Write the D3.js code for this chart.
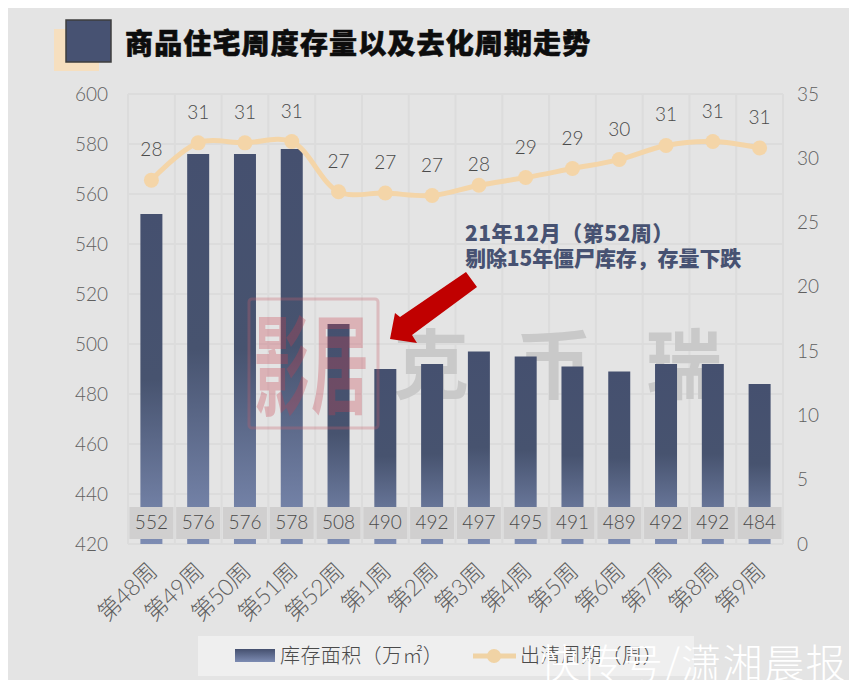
<!DOCTYPE html>
<html><head><meta charset="utf-8">
<script src="https://cdn.jsdelivr.net/npm/d3@7"></script>
<style>
html,body{margin:0;padding:0;background:#fff}
svg{display:block}
text{font-family:"Lato","Noto Sans CJK SC",sans-serif}
.cjk{font-family:"Noto Sans CJK SC",sans-serif}
.axis text{fill:#5f5f5f;font-size:19px;font-weight:300}
.axis path,.axis line{display:none}
.axis text.wk{font-size:23px;font-family:"Lato","Noto Sans CJK SC",sans-serif;letter-spacing:-.4px}
</style></head><body>
<svg id="c" width="857" height="688"></svg>
<script>
const weeks=["第48周","第49周","第50周","第51周","第52周","第1周","第2周","第3周","第4周","第5周","第6周","第7周","第8周","第9周"];
const stock=[552,576,576,578,508,490,492,497,495,491,489,492,492,484];
const cycle=[28.3,31.2,31.2,31.3,27.4,27.3,27.1,27.9,28.5,29.2,29.9,31.0,31.3,30.8];
const cycleLabels=[28,31,31,31,27,27,27,28,29,29,30,31,31,31];
const leftTicks=[420,440,460,480,500,520,540,560,580,600];
const rightTicks=[0,5,10,15,20,25,30,35];
const titleText="商品住宅周度存量以及去化周期走势";
const noteLines=["21年12月（第52周）","剔除15年僵尸库存，存量下跌"];
const legendNames=["库存面积（万㎡）","出清周期（周）"];
const stamp=["克","币","瑞"];

const svg=d3.select("#c");
const L=128,R=783,T=94,B=544;
const x=d3.scaleBand().domain(weeks).range([L,R]);
const y=d3.scaleLinear().domain([420,600]).range([B,T]);
const y2=d3.scaleLinear().domain([0,35]).range([B,T]);
const cx=d=>x(d)+x.bandwidth()/2;
const barW=22;

svg.append("rect").attr("x",8).attr("y",8).attr("width",841).attr("height",672).attr("fill","#e4e4e4");

const defs=svg.append("defs");
const g=defs.append("linearGradient").attr("id","bar").attr("x1",0).attr("y1",0).attr("x2",0).attr("y2",1);
[[0,"#45506f"],[.5,"#47536f"],[1,"#7d8cb3"]].forEach(s=>g.append("stop").attr("offset",s[0]).attr("stop-color",s[1]));
const lg=defs.append("linearGradient").attr("id","leg").attr("x1",0).attr("y1",0).attr("x2",0).attr("y2",1);
[[0,"#45506f"],[1,"#7d8cb3"]].forEach(s=>lg.append("stop").attr("offset",s[0]).attr("stop-color",s[1]));

// title
svg.append("rect").attr("x",54).attr("y",29).attr("width",45).attr("height",42).attr("fill","#f6dfbf");
svg.append("rect").attr("x",66).attr("y",20).attr("width",45).attr("height",42).attr("fill","#475272").attr("stroke","#3e3e3e").attr("stroke-width",1.5);
svg.append("text").attr("class","cjk").attr("x",125).attr("y",54).attr("font-size",28).attr("font-weight",900).attr("letter-spacing",1.15).attr("fill","#0d0d0d").attr("stroke","#0d0d0d").attr("stroke-width",.6).text(titleText);

// grid
const grid=svg.append("g").attr("stroke","#dcdcdc").attr("stroke-width",2);
grid.selectAll("line.h").data(leftTicks).join("line").attr("class","h").attr("x1",L).attr("x2",R).attr("y1",d=>y(d)).attr("y2",d=>y(d));
grid.selectAll("line.v").data(weeks.concat(null)).join("line").attr("class","v")
  .attr("x1",d=>d===null?R:x(d)).attr("x2",d=>d===null?R:x(d)).attr("y1",T).attr("y2",B);

// grey stamp behind the bars
svg.append("g").selectAll("text").data(stamp).join("text").attr("class","cjk")
  .attr("x",(d,i)=>[431,554,684][i]).attr("y",393).attr("text-anchor","middle")
  .attr("font-size",76).attr("font-weight",700).attr("fill","#c9c9c9").text(d=>d);

// bars
svg.append("g").selectAll("rect").data(stock).join("rect")
  .attr("x",(d,i)=>cx(weeks[i])-barW/2).attr("width",barW)
  .attr("y",d=>y(d)).attr("height",d=>B-y(d)).attr("fill","url(#bar)");

// seal
const seal=svg.append("g").attr("opacity",.3);
seal.append("rect").attr("x",249).attr("y",299).attr("width",129).attr("height",129).attr("rx",3).attr("fill","none").attr("stroke","#c8616c").attr("stroke-width",3);
seal.append("text").attr("class","cjk").attr("transform","translate(254,407) scale(.82,1.62)").attr("font-size",68).attr("font-weight",700).attr("fill","#c8404f").text("影");
seal.append("text").attr("class","cjk").attr("transform","translate(311,405) scale(.85,1.6)").attr("font-size",68).attr("font-weight",700).attr("fill","#c8404f").text("居");

// value boxes
const boxes=svg.append("g");
boxes.selectAll("rect").data(stock).join("rect")
  .attr("x",(d,i)=>cx(weeks[i])-22).attr("width",44).attr("y",507).attr("height",32).attr("fill","#d0cfcf");
boxes.selectAll("text").data(stock).join("text")
  .attr("x",(d,i)=>cx(weeks[i])).attr("y",529).attr("text-anchor","middle").attr("font-size",19).attr("font-weight",300).attr("fill","#4a4a4a").text(d=>d);

// line
const line=d3.line().x((d,i)=>cx(weeks[i])).y(d=>y2(d)).curve(d3.curveCatmullRom.alpha(.5));
svg.append("path").datum(cycle).attr("d",line).attr("fill","none").attr("stroke","#f4d5a8").attr("stroke-width",5);
svg.append("g").selectAll("circle").data(cycle).join("circle")
  .attr("cx",(d,i)=>cx(weeks[i])).attr("cy",d=>y2(d)).attr("r",7.5).attr("fill","#f4d5a8");
svg.append("g").selectAll("text").data(cycleLabels).join("text")
  .attr("x",(d,i)=>cx(weeks[i])).attr("y",(d,i)=>y2(cycle[i])-(i===7?14:24)).attr("text-anchor","middle")
  .attr("font-size",19).attr("font-weight",300).attr("fill","#4a4a4a").text(d=>d);

// axes
svg.append("g").attr("class","axis").attr("transform",`translate(${L-8},0)`).call(d3.axisLeft(y).tickValues(leftTicks).tickSize(0).tickPadding(12));
svg.append("g").attr("class","axis").attr("transform",`translate(${R+2},0)`).call(d3.axisRight(y2).tickValues(rightTicks).tickSize(0).tickPadding(12));
const xa=svg.append("g").attr("class","axis").attr("transform",`translate(0,${B})`).call(d3.axisBottom(x).tickSize(0).tickPadding(0));
xa.selectAll("text").attr("class","wk").style("text-anchor","end").attr("dy",0).attr("y",0)
  .attr("transform","translate(7,29) rotate(-44)");

// annotation
svg.append("polygon").attr("points",[[390,339],[395,313],[400,317],[466,272],[477,287],[412,335],[417,343]].join(" ")).attr("fill","#c00000");
svg.append("g").selectAll("text").data(noteLines).join("text").attr("class","cjk")
  .attr("x",465).attr("y",(d,i)=>241+i*25).attr("font-size",21).attr("font-weight",900)
  .attr("letter-spacing",(d,i)=>i?-.1:.5).attr("fill","#475272").text(d=>d);

// legend
svg.append("rect").attr("x",198).attr("y",636).attr("width",496).attr("height",40).attr("fill","#efefef");
svg.append("rect").attr("x",235).attr("y",649).attr("width",40).attr("height",13).attr("fill","url(#leg)");
svg.append("line").attr("x1",473).attr("x2",516).attr("y1",656).attr("y2",656).attr("stroke","#f0d3a5").attr("stroke-width",5);
svg.append("circle").attr("cx",494).attr("cy",656).attr("r",7).attr("fill","#f0d3a5");
svg.append("g").selectAll("text").data(legendNames).join("text").attr("class","cjk")
  .attr("x",(d,i)=>[280,520][i]).attr("y",663).attr("font-size",20).attr("font-weight",300).attr("letter-spacing",.4).attr("fill","#4a4a4a").text(d=>d);

// white overlay credit
svg.append("clipPath").attr("id","clip").append("rect").attr("x",0).attr("y",0).attr("width",857).attr("height",680);
svg.append("text").attr("class","cjk").attr("clip-path","url(#clip)").attr("x",540).attr("y",678).attr("font-size",40).attr("font-weight",300).attr("letter-spacing",1.4).attr("fill","#fff").text("快传号/潇湘晨报");
</script>
</body></html>
